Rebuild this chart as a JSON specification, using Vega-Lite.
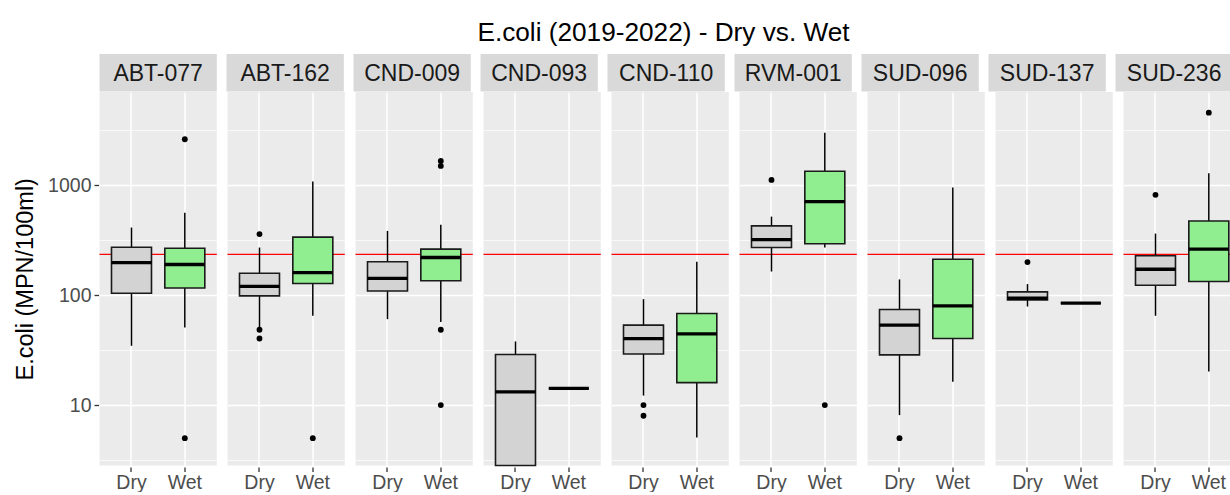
{
  "$schema": "https://vega.github.io/schema/vega-lite/v6.json",
  "background": "white",
  "padding": {"left": 13.5, "top": 19, "right": 4, "bottom": 0},
  "title": {"text": "E.coli (2019-2022) - Dry vs. Wet", "fontSize": 26.2, "font": "Liberation Sans", "fontWeight": "normal", "color": "#000000", "anchor": "middle", "offset": 8, "dx": 36},
  "data": {"values": [
    {"site": "ABT-077", "season": "Dry", "kind": "box", "lo": 34.6, "q1": 104, "med": 198, "q3": 273, "hi": 412},
    {"site": "ABT-077", "season": "Wet", "kind": "box", "lo": 50.7, "q1": 116, "med": 190, "q3": 267, "hi": 563},
    {"site": "ABT-077", "season": "Wet", "kind": "out", "v": 5},
    {"site": "ABT-077", "season": "Wet", "kind": "out", "v": 2618},
    {"site": "ABT-162", "season": "Dry", "kind": "box", "lo": 50.7, "q1": 98.5, "med": 120, "q3": 158, "hi": 271},
    {"site": "ABT-162", "season": "Dry", "kind": "out", "v": 359},
    {"site": "ABT-162", "season": "Dry", "kind": "out", "v": 48.4},
    {"site": "ABT-162", "season": "Dry", "kind": "out", "v": 40.3},
    {"site": "ABT-162", "season": "Wet", "kind": "box", "lo": 65, "q1": 127.5, "med": 160, "q3": 337, "hi": 1080},
    {"site": "ABT-162", "season": "Wet", "kind": "out", "v": 5},
    {"site": "CND-009", "season": "Dry", "kind": "box", "lo": 60.5, "q1": 109, "med": 142, "q3": 201, "hi": 384},
    {"site": "CND-009", "season": "Wet", "kind": "box", "lo": 57, "q1": 135, "med": 220, "q3": 262, "hi": 436},
    {"site": "CND-009", "season": "Wet", "kind": "out", "v": 1664},
    {"site": "CND-009", "season": "Wet", "kind": "out", "v": 1497},
    {"site": "CND-009", "season": "Wet", "kind": "out", "v": 48.4},
    {"site": "CND-009", "season": "Wet", "kind": "out", "v": 10},
    {"site": "CND-093", "season": "Dry", "kind": "box", "lo": 2.82, "q1": 2.82, "med": 13.2, "q3": 28.8, "hi": 37.9},
    {"site": "CND-093", "season": "Wet", "kind": "box", "lo": 14.2, "q1": 14.2, "med": 14.2, "q3": 14.2, "hi": 14.2},
    {"site": "CND-110", "season": "Dry", "kind": "box", "lo": 12.2, "q1": 29.1, "med": 40.3, "q3": 53.4, "hi": 92},
    {"site": "CND-110", "season": "Dry", "kind": "out", "v": 10},
    {"site": "CND-110", "season": "Dry", "kind": "out", "v": 8},
    {"site": "CND-110", "season": "Wet", "kind": "box", "lo": 5.07, "q1": 16, "med": 44.5, "q3": 68, "hi": 201},
    {"site": "RVM-001", "season": "Dry", "kind": "box", "lo": 164, "q1": 271, "med": 320, "q3": 427, "hi": 518},
    {"site": "RVM-001", "season": "Dry", "kind": "out", "v": 1117},
    {"site": "RVM-001", "season": "Wet", "kind": "box", "lo": 271, "q1": 293, "med": 710, "q3": 1339, "hi": 3006},
    {"site": "RVM-001", "season": "Wet", "kind": "out", "v": 10},
    {"site": "SUD-096", "season": "Dry", "kind": "box", "lo": 8.1, "q1": 28.6, "med": 53.4, "q3": 74, "hi": 139},
    {"site": "SUD-096", "season": "Dry", "kind": "out", "v": 5},
    {"site": "SUD-096", "season": "Wet", "kind": "box", "lo": 16.3, "q1": 40.3, "med": 80, "q3": 212, "hi": 951},
    {"site": "SUD-137", "season": "Dry", "kind": "box", "lo": 78.8, "q1": 90.6, "med": 94, "q3": 107, "hi": 126},
    {"site": "SUD-137", "season": "Dry", "kind": "out", "v": 200},
    {"site": "SUD-137", "season": "Wet", "kind": "box", "lo": 84.6, "q1": 84.6, "med": 84.6, "q3": 84.6, "hi": 84.6},
    {"site": "SUD-236", "season": "Dry", "kind": "box", "lo": 64.9, "q1": 123, "med": 172, "q3": 228, "hi": 363},
    {"site": "SUD-236", "season": "Dry", "kind": "out", "v": 817},
    {"site": "SUD-236", "season": "Wet", "kind": "box", "lo": 20.2, "q1": 133, "med": 262, "q3": 473, "hi": 1285},
    {"site": "SUD-236", "season": "Wet", "kind": "out", "v": 4571}
  ]},
  "spacing": 0,
  "vconcat": [
    {
      "transform": [{"filter": "datum.kind === 'box' && datum.season === 'Dry'"}],
      "facet": {"column": {"field": "site", "type": "nominal", "header": {"title": null, "labels": false}}},
      "spacing": 9,
      "spec": {
        "width": 117.3,
        "height": 37.5,
        "view": {"fill": "#d9d9d9", "stroke": null},
        "mark": {"type": "text", "fontSize": 23, "font": "Liberation Sans", "color": "#1a1a1a", "baseline": "middle", "align": "center", "dy": 1},
        "encoding": {
          "text": {"field": "site", "type": "nominal"},
          "y": {"datum": 0.5, "type": "quantitative", "scale": {"domain": [0, 1]},
            "axis": {"title": null, "labels": false, "ticks": false, "domain": false, "grid": false, "minExtent": 84.5, "maxExtent": 84.5}}
        }
      }
    },
    {
      "facet": {"column": {"field": "site", "type": "nominal", "header": {"title": null, "labels": false}}},
      "spacing": 9,
      "spec": {
        "width": 117.3,
        "height": 373.5,
        "view": {"fill": "#ebebeb", "stroke": null},
        "layer": [
          {
            "transform": [{"filter": "datum.kind === 'box' && datum.season === 'Dry'"}],
            "mark": {"type": "rule", "color": "#ff0000", "strokeWidth": 1.3},
            "encoding": {
              "y": {"datum": 235, "type": "quantitative", "scale": {"type": "log", "domain": [2.82, 7047], "nice": false},
                "axis": {
                  "title": "E.coli (MPN/100ml)",
                  "values": [3.1623, 10, 31.623, 100, 316.23, 1000, 3162.3],
                  "labelExpr": "abs(log(datum.value)/LN10 - round(log(datum.value)/LN10)) < 0.01 ? format(datum.value, 'd') : ''",
                  "labelOverlap": false,
                  "labelFlush": false,
                  "domain": false,
                  "grid": true,
                  "gridColor": "#ffffff",
                  "gridWidth": {"condition": {"test": "abs(log(datum.value)/LN10 - round(log(datum.value)/LN10)) < 0.01", "value": 1.5}, "value": 0.7},
                  "tickColor": "#333333",
                  "tickOpacity": {"condition": {"test": "abs(log(datum.value)/LN10 - round(log(datum.value)/LN10)) < 0.01", "value": 1}, "value": 0},
                  "tickSize": 4.5,
                  "tickWidth": 1.3,
                  "labelFont": "Liberation Sans",
                  "labelFontSize": 19.5,
                  "labelColor": "#4d4d4d",
                  "labelPadding": 3,
                  "minExtent": 51,
                  "maxExtent": 51,
                  "titleFont": "Liberation Sans",
                  "titleFontSize": 23.5,
                  "titleFontWeight": "normal",
                  "titleColor": "#000000",
                  "titlePadding": 10
                }
              }
            }
          },
          {
            "transform": [{"filter": "datum.kind === 'box'"}],
            "mark": {"type": "rule", "color": "#000000", "strokeWidth": 1.5},
            "encoding": {
              "x": {"field": "season", "type": "nominal", "sort": ["Dry", "Wet"],
                "scale": {"paddingInner": 0.25, "paddingOuter": 0.225},
                "axis": {
                  "title": null, "labelAngle": 0, "bandPosition": 0.5, "domain": false,
                  "grid": true, "gridColor": "#ffffff", "gridWidth": 1.5,
                  "tickColor": "#333333", "tickSize": 4.5, "tickWidth": 1.3,
                  "labelFont": "Liberation Sans", "labelFontSize": 19.5, "labelColor": "#4d4d4d", "labelPadding": 1.5
                }
              },
              "y": {"field": "lo", "type": "quantitative"},
              "y2": {"field": "hi"}
            }
          },
          {
            "transform": [{"filter": "datum.kind === 'box'"}],
            "mark": {"type": "bar", "stroke": "#1a1a1a", "strokeWidth": 1.6},
            "encoding": {
              "x": {"field": "season", "type": "nominal", "sort": ["Dry", "Wet"]},
              "y": {"field": "q1", "type": "quantitative"},
              "y2": {"field": "q3"},
              "fill": {"field": "season", "type": "nominal", "scale": {"domain": ["Dry", "Wet"], "range": ["#d3d3d3", "#90ee90"]}, "legend": null}
            }
          },
          {
            "transform": [{"filter": "datum.kind === 'box'"}],
            "mark": {"type": "tick", "color": "#000000", "thickness": 3.3, "size": 40, "opacity": 1},
            "encoding": {
              "x": {"field": "season", "type": "nominal", "sort": ["Dry", "Wet"]},
              "y": {"field": "med", "type": "quantitative"}
            }
          },
          {
            "transform": [{"filter": "datum.kind === 'out'"}],
            "mark": {"type": "point", "filled": true, "color": "#000000", "size": 34, "opacity": 1},
            "encoding": {
              "x": {"field": "season", "type": "nominal", "sort": ["Dry", "Wet"]},
              "y": {"field": "v", "type": "quantitative"}
            }
          }
        ]
      }
    }
  ],
  "config": {
    "view": {"stroke": null}
  }
}
